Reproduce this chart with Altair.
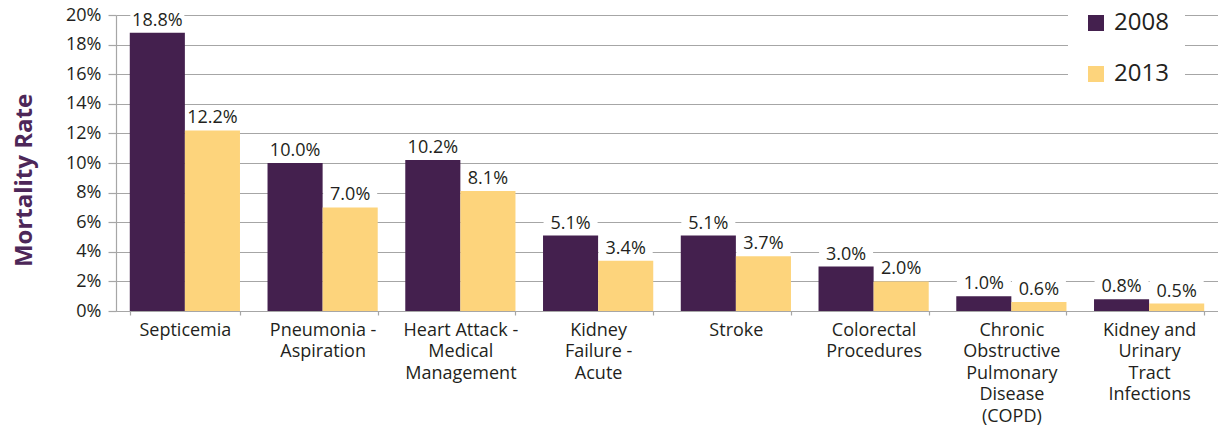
import altair as alt
import pandas as pd

categories = [
    "Septicemia",
    "Pneumonia -|Aspiration",
    "Heart Attack -|Medical|Management",
    "Kidney|Failure -|Acute",
    "Stroke",
    "Colorectal|Procedures",
    "Chronic|Obstructive|Pulmonary|Disease|(COPD)",
    "Kidney and|Urinary|Tract|Infections",
]
years = ["2008", "2013"]
rate_2008 = [18.8, 10.0, 10.2, 5.1, 5.1, 3.0, 1.0, 0.8]
rate_2013 = [12.2, 7.0, 8.1, 3.4, 3.7, 2.0, 0.6, 0.5]
y_ticks = [0, 2, 4, 6, 8, 10, 12, 14, 16, 18, 20]

rows = []
for c, a, b in zip(categories, rate_2008, rate_2013):
    rows.append({"category": c, "year": "2008", "rate": a})
    rows.append({"category": c, "year": "2013", "rate": b})
df = pd.DataFrame(rows)

FONT = "Open Sans"
TXT = "#231f20"
GRID = "#a6a6a6"

x_enc = alt.X(
    "category:N",
    sort=categories,
    scale=alt.Scale(paddingInner=0.2, paddingOuter=0.1),
    axis=alt.Axis(
        title=None,
        labelExpr="split(datum.label, '|')",
        labelAngle=0,
        labelFont=FONT,
        labelFontSize=18,
        labelColor=TXT,
        labelLineHeight=21.5,
        labelLimit=0,
        labelPadding=6,
        labelBaseline="top",
        tickBand="extent",
        tickSize=4,
        tickColor=GRID,
        tickWidth=1.2,
        domainColor=GRID,
        domainWidth=1.2,
        grid=False,
    ),
)
xoff = alt.XOffset("year:N", sort=years, scale=alt.Scale(paddingInner=0, paddingOuter=0))
y_enc = alt.Y(
    "rate:Q",
    scale=alt.Scale(domain=[0, 20], nice=False),
    axis=alt.Axis(
        title="Mortality Rate",
        titleFont=FONT,
        titleFontSize=24,
        titleFontWeight="bold",
        titleColor="#4d2758",
        titlePadding=29,
        titleY=165,
        values=y_ticks,
        labelExpr="datum.value + '%'",
        labelFont=FONT,
        labelFontSize=18,
        labelColor=TXT,
        labelPadding=7,
        tickSize=8,
        tickColor=GRID,
        tickWidth=1.2,
        domainColor=GRID,
        domainWidth=1.2,
        grid=True,
        gridColor=GRID,
        gridWidth=1.2,
    ),
)

base = alt.Chart(df).encode(x=x_enc, xOffset=xoff, y=y_enc)

bars = base.mark_bar().encode(
    color=alt.Color(
        "year:N",
        sort=years,
        scale=alt.Scale(domain=years, range=["#44204e", "#fdd47c"]),
        legend=alt.Legend(
            title=None,
            orient="none",
            legendX=952,
            legendY=-20,
            symbolType="square",
            symbolSize=256,
            symbolStrokeWidth=0,
            labelFont=FONT,
            labelFontSize=24,
            labelColor=TXT,
            labelOffset=6,
            rowPadding=27,
            padding=16,
            fillColor="white",
        ),
    )
)

boxes = base.mark_point(
    shape="M-1,-0.4H1V0.4H-1Z",
    size=2916,
    filled=True,
    fill="white",
    opacity=1,
    strokeWidth=0,
    yOffset=-12,
)

labels = base.transform_calculate(
    lab="format(datum.rate, '.1f') + '%'"
).mark_text(
    font=FONT, fontSize=18, color=TXT, baseline="middle", dy=-12
).encode(text="lab:N")

chart = (
    alt.layer(bars, boxes, labels)
    .properties(
        width=1102,
        height=296,
        autosize=alt.AutoSizeParams(type="none"),
        padding={"left": 108, "top": 7, "right": 0, "bottom": 118},
    )
    .configure_view(stroke=None)
)

chart.save("out.html", embed_options={"renderer": "svg", "actions": False})
